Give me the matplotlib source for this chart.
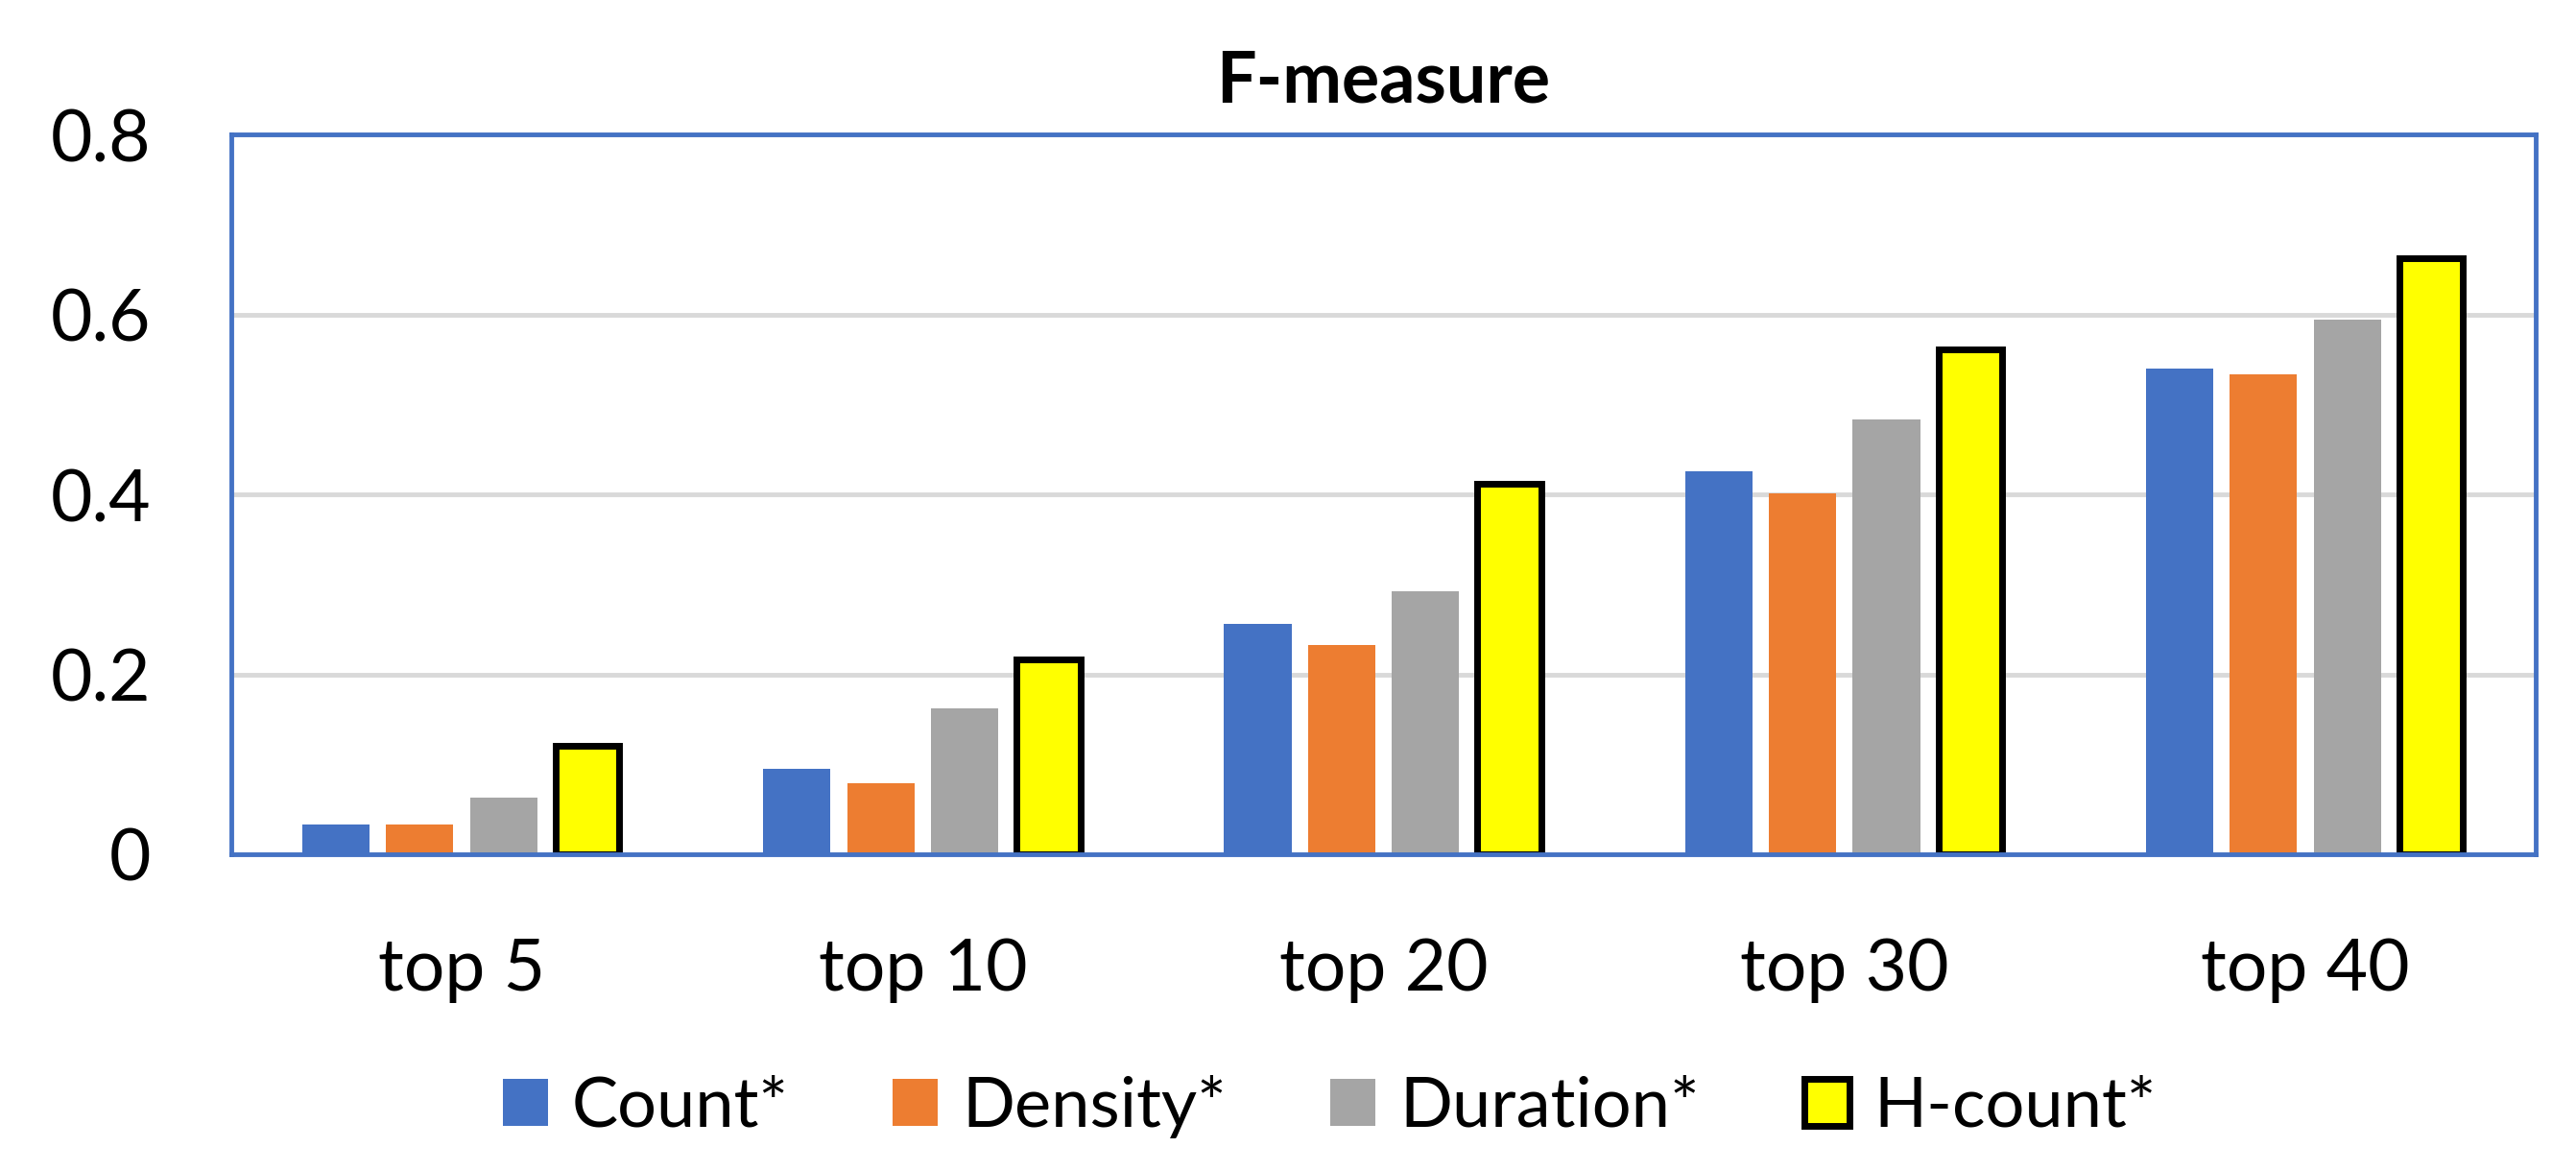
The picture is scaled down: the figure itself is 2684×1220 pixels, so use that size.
import matplotlib
matplotlib.use("Agg")
import matplotlib.pyplot as plt
import numpy as np

categories = ["top 5", "top 10", "top 20", "top 30", "top 40"]
series_names = ["Count*", "Density*", "Duration*", "H-count*"]
count_vals = [0.033, 0.095, 0.256, 0.426, 0.540]
density_vals = [0.033, 0.079, 0.233, 0.401, 0.533]
duration_vals = [0.063, 0.162, 0.292, 0.483, 0.594]
hcount_vals = [0.120, 0.217, 0.412, 0.561, 0.662]
yticks = [0, 0.2, 0.4, 0.6, 0.8]
ytick_labels = ["0", "0.2", "0.4", "0.6", "0.8"]

colors = ["#4472C4", "#ED7D31", "#A5A5A5", "#FFFF00"]
plt.rcParams['font.family'] = ['Lato', 'DejaVu Sans']

fig = plt.figure(figsize=(26.84, 12.2), dpi=100)
ax = fig.add_axes([0.0898, 0.2705, 0.8946, 0.6147])

x = np.arange(len(categories))
pitch = 0.182
width = 0.146
all_vals = [count_vals, density_vals, duration_vals, hcount_vals]
for j, (vals, c, name) in enumerate(zip(all_vals, colors, series_names)):
    off = (j - 1.5) * pitch
    if j == 3:
        ax.bar(x + off, vals, width=width - 0.0075, color=c, edgecolor="black",
               linewidth=5, label=name, zorder=3)
    else:
        ax.bar(x + off, vals, width=width, color=c, label=name, zorder=3)

ax.set_xlim(-0.5, 4.5)
ax.set_ylim(0, 0.8)
ax.set_yticks(yticks)
ax.set_yticklabels(ytick_labels)
ax.set_xticks(x)
ax.set_xticklabels(categories)
ax.yaxis.grid(True, color="#D9D9D9", linewidth=3.5, zorder=0)
ax.set_axisbelow(True)
for s in ax.spines.values():
    s.set_color("#4472C4")
    s.set_linewidth(3.5)
    s.set_zorder(4)
ax.tick_params(axis="both", length=0, labelsize=54, colors="black")
ax.tick_params(axis="y", pad=60)
ax.tick_params(axis="x", pad=62)

ax.set_title("F-measure", fontsize=53, fontweight="bold", pad=24)

leg = fig.legend(loc="center", bbox_to_anchor=(0.516, 0.055), ncol=4, frameon=False,
                 fontsize=52, handlelength=0.65, handleheight=0.65, handletextpad=0.35,
                 columnspacing=1.5)

fig.savefig("out.png", dpi=100)
